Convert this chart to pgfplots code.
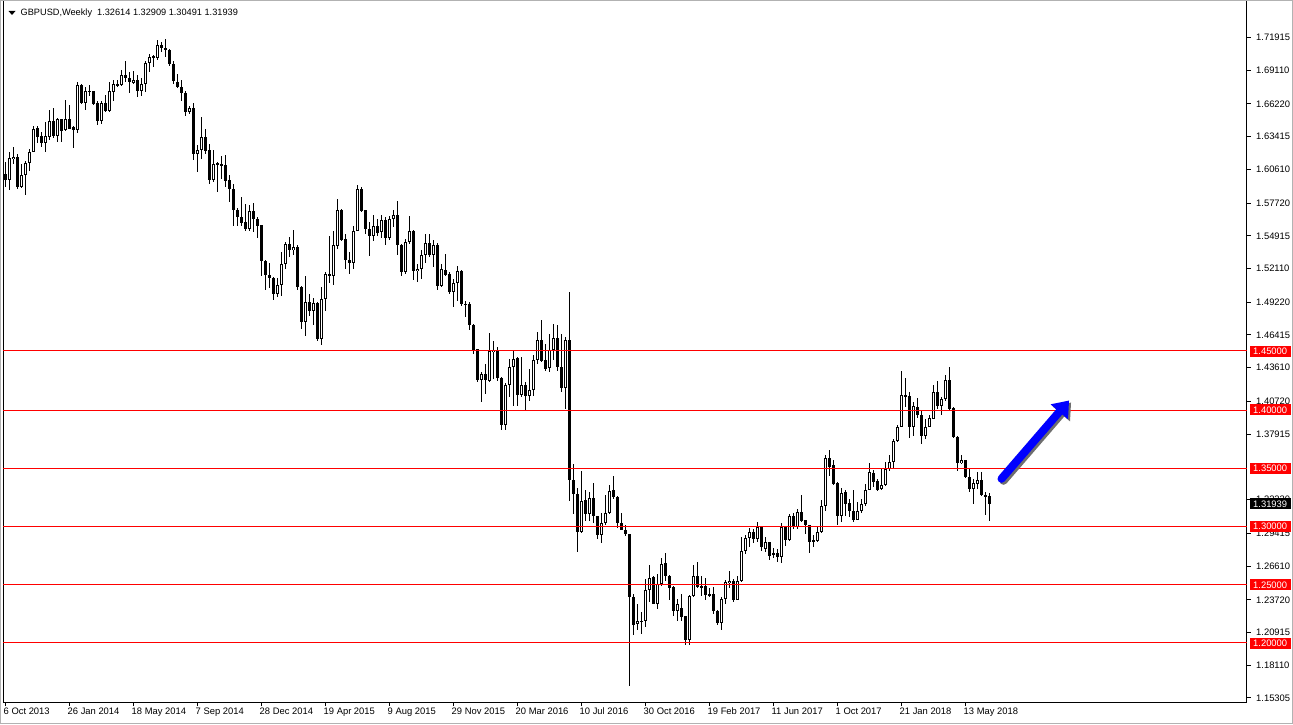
\documentclass[border=0pt]{standalone}
\usepackage{pgfplots}
\pgfplotsset{compat=1.18}
\usepackage{pgfplotstable}
\usepackage{fontspec}
\setmainfont{Liberation Sans}
\usetikzlibrary{arrows.meta}
\definecolor{mtred}{RGB}{255,0,0}
\definecolor{mtblue}{RGB}{0,0,255}
\definecolor{shadowgray}{RGB}{110,110,110}
\begin{document}
\pgfplotstableread{
k O H L C
0 1.6023 1.6123 1.5909 1.5966
1 1.5971 1.6209 1.5886 1.6157
2 1.6151 1.6251 1.6109 1.6171
3 1.6171 1.6189 1.5894 1.5914
4 1.5909 1.6109 1.5905 1.6009
5 1.6009 1.6129 1.5843 1.6117
6 1.6117 1.6237 1.6046 1.6214
7 1.6214 1.6437 1.6209 1.6409
8 1.6414 1.6437 1.6286 1.6337
9 1.6343 1.6380 1.6251 1.6289
10 1.6289 1.6466 1.6209 1.6343
11 1.6337 1.6574 1.6309 1.6474
12 1.6474 1.6589 1.6331 1.6343
13 1.6343 1.6503 1.6300 1.6489
14 1.6489 1.6494 1.6294 1.6394
15 1.6400 1.6657 1.6394 1.6494
16 1.6494 1.6617 1.6403 1.6409
17 1.6423 1.6430 1.6246 1.6400
18 1.6400 1.6809 1.6371 1.6780
19 1.6780 1.6794 1.6623 1.6631
20 1.6629 1.6766 1.6571 1.6737
21 1.6737 1.6780 1.6686 1.6723
22 1.6729 1.6735 1.6609 1.6623
23 1.6629 1.6651 1.6443 1.6474
24 1.6474 1.6651 1.6451 1.6629
25 1.6629 1.6700 1.6551 1.6560
26 1.6560 1.6814 1.6551 1.6729
27 1.6723 1.6831 1.6643 1.6789
28 1.6789 1.6831 1.6771 1.6780
29 1.6780 1.6909 1.6778 1.6866
30 1.6866 1.6986 1.6809 1.6846
31 1.6846 1.6894 1.6717 1.6809
32 1.6803 1.6900 1.6794 1.6831
33 1.6831 1.6874 1.6680 1.6731
34 1.6731 1.6843 1.6689 1.6794
35 1.6794 1.6986 1.6723 1.6974
36 1.6974 1.7051 1.6894 1.7023
37 1.7017 1.7043 1.6937 1.7029
38 1.7017 1.7174 1.7000 1.7129
39 1.7129 1.7157 1.7066 1.7103
40 1.7103 1.7180 1.7023 1.7086
41 1.7086 1.7090 1.6946 1.6966
42 1.6966 1.6994 1.6789 1.6817
43 1.6814 1.6880 1.6757 1.6766
44 1.6771 1.6829 1.6646 1.6714
45 1.6720 1.6729 1.6517 1.6551
46 1.6551 1.6603 1.6537 1.6586
47 1.6589 1.6631 1.6143 1.6194
48 1.6194 1.6271 1.6037 1.6229
49 1.6229 1.6514 1.6146 1.6337
50 1.6337 1.6409 1.6189 1.6217
51 1.6223 1.6280 1.5937 1.5966
52 1.5966 1.6223 1.5952 1.6109
53 1.6100 1.6123 1.5866 1.6114
54 1.6100 1.6180 1.5980 1.6098
55 1.6100 1.6180 1.5909 1.5960
56 1.5966 1.6017 1.5780 1.5894
57 1.5894 1.5937 1.5580 1.5714
58 1.5717 1.5731 1.5580 1.5651
59 1.5657 1.5823 1.5574 1.5603
60 1.5614 1.5760 1.5537 1.5546
61 1.5546 1.5752 1.5531 1.5706
62 1.5706 1.5774 1.5523 1.5637
63 1.5637 1.5657 1.5471 1.5574
64 1.5580 1.5585 1.5151 1.5274
65 1.5280 1.5285 1.5023 1.5157
66 1.5160 1.5260 1.5046 1.5131
67 1.5131 1.5135 1.4943 1.4994
68 1.4994 1.5129 1.4966 1.5071
69 1.5071 1.5351 1.4974 1.5251
70 1.5251 1.5437 1.5209 1.5423
71 1.5423 1.5480 1.5309 1.5371
72 1.5371 1.5543 1.5323 1.5394
73 1.5394 1.5409 1.5023 1.5051
74 1.5057 1.5060 1.4694 1.4751
75 1.4751 1.5151 1.4629 1.4923
76 1.4923 1.4994 1.4808 1.4846
77 1.4846 1.4957 1.4731 1.4914
78 1.4914 1.4923 1.4589 1.4609
79 1.4603 1.5051 1.4560 1.4951
80 1.4951 1.5180 1.4851 1.5166
81 1.5166 1.5494 1.5089 1.5149
82 1.5149 1.5537 1.5071 1.5409
83 1.5403 1.5809 1.5380 1.5709
84 1.5709 1.5723 1.5446 1.5460
85 1.5466 1.5509 1.5209 1.5280
86 1.5280 1.5351 1.5166 1.5260
87 1.5260 1.5580 1.5203 1.5537
88 1.5537 1.5923 1.5529 1.5889
89 1.5889 1.5909 1.5694 1.5703
90 1.5709 1.5717 1.5509 1.5551
91 1.5546 1.5609 1.5317 1.5489
92 1.5494 1.5666 1.5443 1.5574
93 1.5580 1.5637 1.5486 1.5517
94 1.5523 1.5666 1.5471 1.5623
95 1.5623 1.5651 1.5414 1.5474
96 1.5474 1.5660 1.5457 1.5637
97 1.5637 1.5714 1.5566 1.5671
98 1.5671 1.5794 1.5323 1.5414
99 1.5414 1.5423 1.5143 1.5180
100 1.5180 1.5466 1.5166 1.5437
101 1.5437 1.5660 1.5423 1.5537
102 1.5537 1.5543 1.5117 1.5189
103 1.5189 1.5251 1.5094 1.5209
104 1.5209 1.5371 1.5123 1.5331
105 1.5331 1.5503 1.5257 1.5431
106 1.5431 1.5509 1.5309 1.5329
107 1.5329 1.5457 1.5223 1.5417
108 1.5417 1.5429 1.5023 1.5060
109 1.5060 1.5251 1.5057 1.5203
110 1.5200 1.5337 1.5143 1.5157
111 1.5160 1.5180 1.4994 1.5014
112 1.5014 1.5123 1.4880 1.5089
113 1.5089 1.5237 1.4937 1.5194
114 1.5194 1.5197 1.4886 1.4909
115 1.4909 1.4937 1.4794 1.4905
116 1.4909 1.4923 1.4686 1.4731
117 1.4731 1.4737 1.4480 1.4517
118 1.4523 1.4525 1.4237 1.4260
119 1.4260 1.4323 1.4066 1.4303
120 1.4303 1.4394 1.4137 1.4260
121 1.4251 1.4657 1.4237 1.4503
122 1.4494 1.4589 1.4266 1.4514
123 1.4509 1.4537 1.4251 1.4271
124 1.4274 1.4280 1.3831 1.3866
125 1.3866 1.4231 1.3831 1.4209
126 1.4209 1.4437 1.4109 1.4371
127 1.4371 1.4509 1.4037 1.4437
128 1.4443 1.4451 1.4037 1.4123
129 1.4123 1.4457 1.4109 1.4214
130 1.4214 1.4237 1.3994 1.4117
131 1.4117 1.4346 1.4080 1.4166
132 1.4166 1.4466 1.4117 1.4431
133 1.4431 1.4666 1.4394 1.4600
134 1.4600 1.4766 1.4409 1.4417
135 1.4423 1.4566 1.4331 1.4351
136 1.4360 1.4651 1.4323 1.4514
137 1.4514 1.4737 1.4429 1.4617
138 1.4617 1.4729 1.4331 1.4371
139 1.4371 1.4651 1.4151 1.4186
140 1.4186 1.4623 1.4009 1.4600
141 1.4600 1.5014 1.3217 1.3400
142 1.3400 1.3532 1.3109 1.3280
143 1.3280 1.3332 1.2780 1.2951
144 1.2951 1.3480 1.2946 1.3217
145 1.3223 1.3309 1.3051 1.3109
146 1.3109 1.3294 1.3051 1.3246
147 1.3246 1.3372 1.3031 1.3086
148 1.3086 1.3094 1.2894 1.2929
149 1.2929 1.3117 1.2857 1.3031
150 1.3031 1.3274 1.3009 1.3117
151 1.3117 1.3352 1.3109 1.3303
152 1.3309 1.3432 1.3237 1.3252
153 1.3257 1.3260 1.2986 1.3031
154 1.3031 1.3117 1.2966 1.2974
155 1.2974 1.3009 1.2917 1.2937
156 1.2937 1.2940 1.1637 1.2394
157 1.2400 1.2423 1.2074 1.2157
158 1.2166 1.2332 1.2114 1.2189
159 1.2180 1.2266 1.2080 1.2194
160 1.2189 1.2552 1.2137 1.2452
161 1.2452 1.2674 1.2351 1.2560
162 1.2566 1.2580 1.2332 1.2337
163 1.2337 1.2589 1.2289 1.2509
164 1.2509 1.2732 1.2494 1.2680
165 1.2686 1.2772 1.2537 1.2580
166 1.2580 1.2582 1.2374 1.2474
167 1.2480 1.2494 1.2229 1.2274
168 1.2274 1.2380 1.2189 1.2332
169 1.2300 1.2423 1.2189 1.2223
170 1.2229 1.2237 1.1986 1.2029
171 1.2029 1.2409 1.1986 1.2403
172 1.2403 1.2674 1.2394 1.2572
173 1.2572 1.2700 1.2472 1.2480
174 1.2474 1.2580 1.2403 1.2486
175 1.2486 1.2560 1.2371 1.2414
176 1.2423 1.2474 1.2394 1.2409
177 1.2423 1.2480 1.2252 1.2274
178 1.2280 1.2286 1.2160 1.2172
179 1.2172 1.2394 1.2109 1.2380
180 1.2380 1.2543 1.2332 1.2523
181 1.2517 1.2617 1.2474 1.2537
182 1.2537 1.2552 1.2357 1.2374
183 1.2374 1.2580 1.2371 1.2537
184 1.2537 1.2909 1.2523 1.2786
185 1.2786 1.2923 1.2766 1.2903
186 1.2903 1.2986 1.2823 1.2957
187 1.2957 1.2980 1.2860 1.2894
188 1.2894 1.3040 1.2870 1.2994
189 1.2994 1.3000 1.2790 1.2823
190 1.2808 1.2910 1.2780 1.2866
191 1.2866 1.2870 1.2710 1.2751
192 1.2757 1.2820 1.2730 1.2774
193 1.2774 1.2810 1.2700 1.2737
194 1.2737 1.3030 1.2690 1.2994
195 1.2994 1.3005 1.2830 1.2886
196 1.2886 1.3110 1.2880 1.3094
197 1.3094 1.3120 1.2980 1.3000
198 1.3000 1.3150 1.2980 1.3123
199 1.3123 1.3266 1.3040 1.3046
200 1.3057 1.3060 1.2937 1.3009
201 1.3009 1.3014 1.2774 1.2866
202 1.2886 1.2923 1.2823 1.2866
203 1.2880 1.2994 1.2866 1.2951
204 1.2951 1.3223 1.2943 1.3172
205 1.3172 1.3609 1.3137 1.3589
206 1.3589 1.3652 1.3437 1.3514
207 1.3523 1.3566 1.3352 1.3366
208 1.3372 1.3380 1.3017 1.3089
209 1.3089 1.3332 1.3037 1.3289
210 1.3294 1.3309 1.3086 1.3194
211 1.3200 1.3237 1.3080 1.3129
212 1.3137 1.3314 1.3037 1.3060
213 1.3060 1.3209 1.3052 1.3129
214 1.3129 1.3237 1.3120 1.3194
215 1.3194 1.3366 1.3180 1.3314
216 1.3314 1.3543 1.3309 1.3466
217 1.3460 1.3486 1.3337 1.3380
218 1.3389 1.3409 1.3303 1.3317
219 1.3323 1.3494 1.3317 1.3352
220 1.3357 1.3551 1.3343 1.3494
221 1.3494 1.3609 1.3480 1.3557
222 1.3551 1.3751 1.3500 1.3737
223 1.3731 1.3866 1.3723 1.3857
224 1.3857 1.4337 1.3851 1.4129
225 1.4129 1.4271 1.4023 1.4109
226 1.4117 1.4151 1.3757 1.3851
227 1.3851 1.4066 1.3780 1.4029
228 1.4023 1.4100 1.3930 1.3960
229 1.3960 1.4000 1.3709 1.3780
230 1.3780 1.3923 1.3751 1.3857
231 1.3857 1.3957 1.3851 1.3929
232 1.3923 1.4214 1.3923 1.4157
233 1.4157 1.4243 1.4009 1.4031
234 1.4031 1.4109 1.3957 1.4089
235 1.4089 1.4300 1.4080 1.4260
236 1.4260 1.4366 1.3994 1.4009
237 1.4014 1.4023 1.3757 1.3766
238 1.3771 1.3775 1.3480 1.3546
239 1.3546 1.3614 1.3537 1.3566
240 1.3566 1.3570 1.3414 1.3423
241 1.3423 1.3494 1.3294 1.3323
242 1.3323 1.3408 1.3194 1.3371
243 1.3366 1.3466 1.3323 1.3400
244 1.3400 1.3466 1.3260 1.3266
245 1.3266 1.3294 1.3100 1.3251
246 1.32614 1.32909 1.30491 1.31939
}\gbp
\begin{tikzpicture}[x=1pt,y=1pt]
\useasboundingbox (-3,-22) rectangle (1290,702);
\fill[white] (-3,-22) rectangle (1290,702);
\begin{axis}[
  at={(0,0)}, anchor=south west,
  scale only axis, width=1244pt, height=701pt,
  xmin=-0.625, xmax=310.375, ymin=1.149572, ymax=1.750428,
  axis line style={black, line width=1pt},
  ytick pos=right, yticklabel pos=right,
  xtick pos=bottom,
  tick align=outside, major tick length=4pt,
  tick style={black, line width=1pt},
  ytick={1.71915,1.69110,1.66220,1.63415,1.60610,1.57720,1.54915,1.52110,1.49220,1.46415,1.43610,1.40720,1.37915,1.32330,1.29415,1.26610,1.23720,1.20915,1.18110,1.15305},
  yticklabels={1.71915,1.69110,1.66220,1.63415,1.60610,1.57720,1.54915,1.52110,1.49220,1.46415,1.43610,1.40720,1.37915,1.32330,1.29415,1.26610,1.23720,1.20915,1.18110,1.15305},
  xtick={0,16,32,48,64,80,96,112,128,144,160,176,192,208,224,240},
  xticklabels={6 Oct 2013,26 Jan 2014,18 May 2014,7 Sep 2014,28 Dec 2014,19 Apr 2015,9 Aug 2015,29 Nov 2015,20 Mar 2016,10 Jul 2016,30 Oct 2016,19 Feb 2017,11 Jun 2017,1 Oct 2017,21 Jan 2018,13 May 2018},
  yticklabel style={anchor=west, inner sep=0pt, xshift=5pt, font=\fontsize{9.4}{10}\selectfont},
  xticklabel style={anchor=north west, inner sep=0pt, xshift=-2pt, yshift=-1.5pt, font=\fontsize{9.4}{10}\selectfont},
]
% wicks
\addplot[draw=none, mark=none, forget plot,
  error bars/.cd, y dir=both, y explicit, error mark=none,
  error bar style={draw=black, line width=1pt}]
  table[x=k, y expr={(\thisrow{H}+\thisrow{L})/2},
        y error plus expr={(\thisrow{H}-\thisrow{L})/2},
        y error minus expr={(\thisrow{H}-\thisrow{L})/2}] {\gbp};
% bodies
\addplot[draw=none, mark=none, forget plot,
  error bars/.cd, y dir=both, y explicit, error mark=none,
  error bar style={draw=black, line width=3pt}]
  table[x=k, y expr={(\thisrow{O}+\thisrow{C})/2},
        y error plus expr={max(abs(\thisrow{C}-\thisrow{O})/2,0.00045)},
        y error minus expr={max(abs(\thisrow{C}-\thisrow{O})/2,0.00045)}] {\gbp};
% white interior of rising candles
\addplot[draw=none, mark=none, forget plot,
  error bars/.cd, y dir=both, y explicit, error mark=none,
  error bar style={draw=white, line width=1pt}]
  table[x=k, y expr={(\thisrow{O}+\thisrow{C})/2},
        y error plus expr={max((\thisrow{C}-\thisrow{O})/2-0.000857,0)},
        y error minus expr={max((\thisrow{C}-\thisrow{O})/2-0.000857,0)}] {\gbp};
% horizontal levels (snapped to whole pixel rows)
\addplot[color=mtred, line width=1pt, forget plot, yshift=1pt] coordinates {(-0.625,1.45) (310.375,1.45)};
\addplot[color=mtred, line width=1pt, forget plot, yshift=-0.667pt] coordinates {(-0.625,1.40) (310.375,1.40)};
\addplot[color=mtred, line width=1pt, forget plot, yshift=-0.333pt] coordinates {(-0.625,1.35) (310.375,1.35)};
\addplot[color=mtred, line width=1pt, forget plot] coordinates {(-0.625,1.30) (310.375,1.30)};
\addplot[color=mtred, line width=1pt, forget plot, yshift=0.333pt] coordinates {(-0.625,1.25) (310.375,1.25)};
\addplot[color=mtred, line width=1pt, forget plot, yshift=0.667pt] coordinates {(-0.625,1.20) (310.375,1.20)};
% arrow with shadow
\draw[draw=shadowgray, line width=8pt, line cap=round, -{Triangle[length=15pt,width=22pt,fill=shadowgray]}]
  ([xshift=2pt,yshift=-2pt]axis cs:249.0,1.3409) -- ([xshift=2pt,yshift=-2pt]axis cs:265.9,1.4080);
\draw[draw=mtblue, line width=8pt, line cap=round, -{Triangle[length=15pt,width=22pt,fill=mtblue]}]
  (axis cs:249.0,1.3409) -- (axis cs:265.9,1.4080);
\coordinate (cur) at (axis cs:310.375,1.31939);
\coordinate (L1) at (axis cs:310.375,1.45);
\coordinate (L2) at (axis cs:310.375,1.40);
\coordinate (L3) at (axis cs:310.375,1.35);
\coordinate (L4) at (axis cs:310.375,1.30);
\coordinate (L5) at (axis cs:310.375,1.25);
\coordinate (L6) at (axis cs:310.375,1.20);
\end{axis}
\tikzset{lvbox/.style={anchor=west, fill=mtred, text=white, inner xsep=3.5pt, inner ysep=2.2pt, font=\fontsize{9.4}{10}\selectfont, xshift=2.5pt}}
\node[lvbox] at (L1) {1.45000};
\node[lvbox] at (L2) {1.40000};
\node[lvbox] at (L3) {1.35000};
\node[lvbox] at (L4) {1.30000};
\node[lvbox] at (L5) {1.25000};
\node[lvbox] at (L6) {1.20000};
\node[lvbox, fill=black] at (cur) {1.31939};
\fill[black] (5.5,691) -- (12.5,691) -- (9,687) -- cycle;
\node[anchor=base west, inner sep=0pt, font=\fontsize{9.2}{10}\selectfont] at (17.5,686.3) {GBPUSD,Weekly\ \ 1.32614 1.32909 1.30491 1.31939};
\draw[gray!60, line width=1pt] (-2.5,-21.5) rectangle (1289.5,701.5);
\end{tikzpicture}
\end{document}
